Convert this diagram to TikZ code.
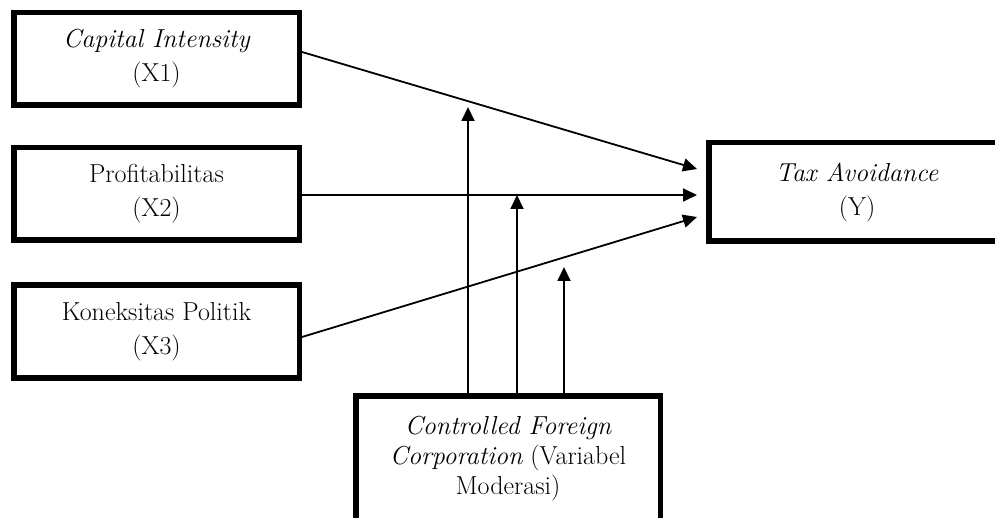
\documentclass[tikz,border=0pt]{standalone}
\usepackage{tikz}
\usetikzlibrary{arrows.meta,calc}

\begin{document}
\begin{tikzpicture}[x=1pt,y=-1pt]
    \tikzstyle{varbox} = [rectangle, draw, line width=5.5pt, align=center, inner sep=0pt,
        minimum width=285.5pt, minimum height=92.5pt, font=\fontsize{26}{34}\selectfont]
    \tikzstyle{arr} = [line width=1.8pt, -{Triangle[length=14pt,width=13pt]}]
    \useasboundingbox (0,0) rectangle (995,518);
    % independent variables
    \node[varbox] (x1) at (156.5,59) {{\itshape Capital Intensity}\\(X1)};
    \node[varbox] (x2) at (156.5,194) {Profitabilitas\\(X2)};
    \node[varbox] (x3) at (156.5,331.5) {Koneksitas Politik\\(X3)};
    % dependent and moderating variable
    \node[varbox, minimum width=296.5pt, minimum height=98.5pt] (ty) at (857,192) {{\itshape Tax Avoidance}\\(Y)};
    \node[varbox, minimum width=304.5pt, minimum height=126.5pt, font=\fontsize{26}{30}\selectfont] (mod) at (508,459)
        {{\itshape Controlled Foreign}\\{\itshape Corporation} (Variabel\\Moderasi)};
    % arrow ends
    \coordinate (t1) at (697,169);
    \coordinate (t2) at (697,195);
    \coordinate (t3) at (697,217);
    \coordinate (m1) at (468,107);
    \coordinate (m2) at (517,195);
    \coordinate (m3) at (564,267);
    \draw[arr] ($(x1.east)+(0,-7)$) -- (t1);
    \draw[arr] (x2.east |- t2) -- (t2);
    \draw[arr] ($(x3.east)+(0,5.5)$) -- (t3);
    \foreach \m in {m1,m2,m3} {
        \draw[arr] (mod.north -| \m) -- (\m);
    }
\end{tikzpicture}
\end{document}
